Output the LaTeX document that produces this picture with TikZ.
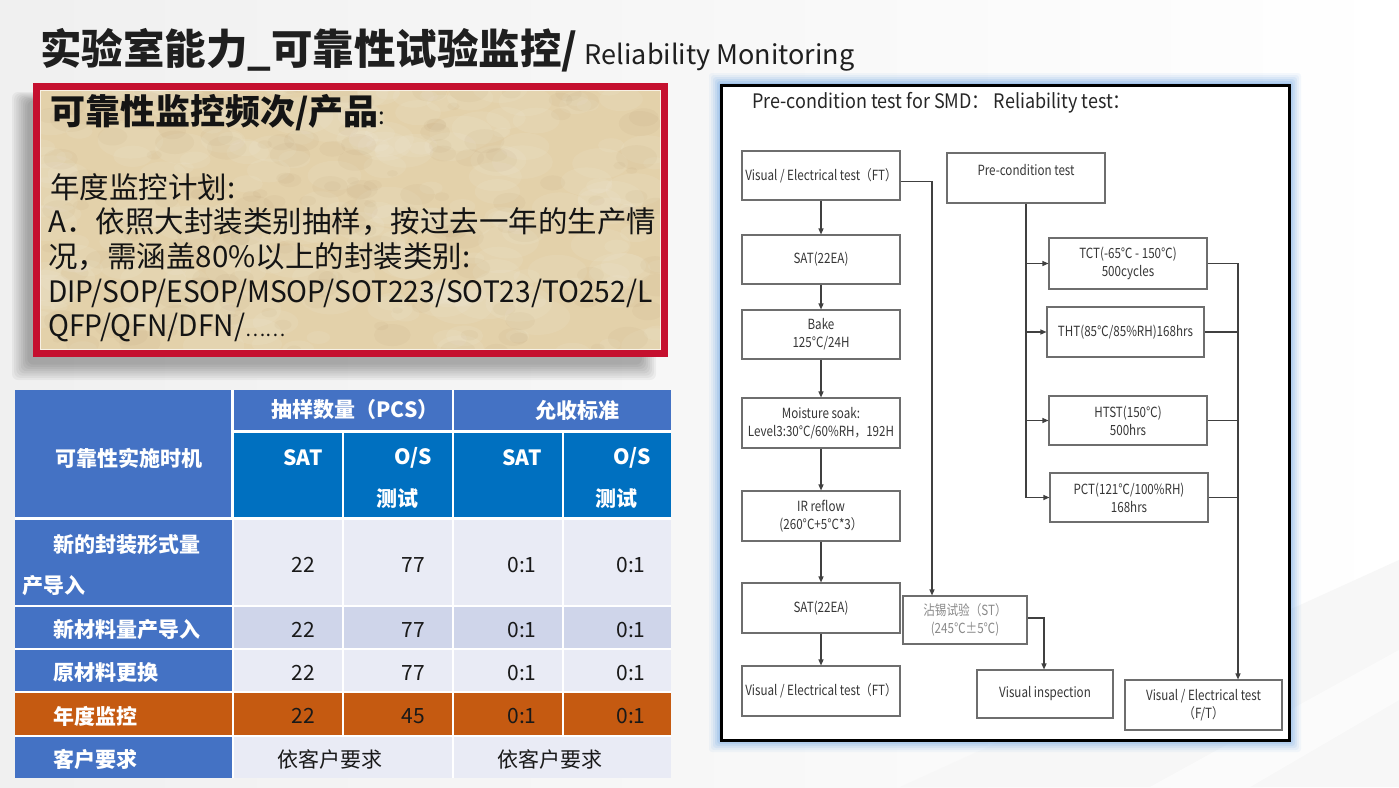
\documentclass[tikz,border=0pt]{standalone}
\usepackage{fontspec}
\setmainfont{Noto Sans CJK SC}
\usepackage{graphicx}
\usetikzlibrary{arrows.meta}
\definecolor{tblue}{HTML}{4472C4}
\definecolor{hblue}{HTML}{0070C0}
\definecolor{rowa}{HTML}{E9EBF5}
\definecolor{rowb}{HTML}{CFD5EA}
\definecolor{orng}{HTML}{C55A11}
\definecolor{crim}{HTML}{C5102F}
\definecolor{tanc}{HTML}{E3D1AA}
\definecolor{glow}{HTML}{6FA6E4}
\definecolor{fline}{HTML}{6E6E6E}
\definecolor{ftext}{HTML}{363636}
\definecolor{sttext}{HTML}{8A8A8A}
\newcommand{\myfs}[2]{\fontsize{#1}{#2}\selectfont}
\newcommand{\nw}[1]{\scalebox{0.83}[1]{#1}}
\tikzset{
  fbox/.style={draw=fline, line width=1.1pt, fill=white, inner sep=0pt, text=ftext,
    font=\myfs{14}{18}, align=center},
  ftxt/.style={inner sep=0pt, text=ftext, font=\myfs{14}{18}, align=center},
  arr/.style={draw=black!75, line width=1.1pt, -{Triangle[length=6pt,width=5pt]}},
  lnk/.style={draw=black!75, line width=1.1pt},
  hdr/.style={inner sep=0pt, text=white, font=\myfs{21}{26}\bfseries},
  cell/.style={inner sep=0pt, text=black!90, font=\myfs{21}{26}},
  lbl/.style={inner sep=0pt, anchor=west, text=white, font=\myfs{21}{26}\bfseries},
  btxt/.style={inner sep=0pt, anchor=west, text=black!92, font=\myfs{29.5}{34}}
}
\begin{document}
\begin{tikzpicture}[x=1pt,y=-1pt]
\useasboundingbox (0,0) rectangle (1399,787);
% background
\shade[left color=black!6, right color=white] (0,0) rectangle (1399,787);
\fill[black!3] (900,787) -- (1399,560) -- (1399,787) -- cycle;
\fill[white,opacity=0.6] (1150,787) -- (1399,650) -- (1399,700) -- (1250,787) -- cycle;

% title
\node[inner sep=0pt, anchor=base west, text=black!88] (title) at (40,64)
  {{\myfs{41.5}{44}\bfseries 实验室能力\_可靠性试验监控/}\hspace{7pt}{\myfs{27}{30}Reliability Monitoring}};

% shadow of the red box
\foreach \i in {0,...,7}{
  \fill[black,opacity=0.045, rounded corners=6pt] (12+2.2*\i, 92+1.2*\i) rectangle (656-2*\i, 380-2.2*\i);
}
% red box with tan texture
\fill[tanc] (33,83) rectangle (668,357);
\pgfmathsetseed{11}
\begin{scope}
\clip (37,87) rectangle (664,353);
\foreach \k in {1,...,220}{
  \pgfmathsetmacro\xx{37+rnd*627}
  \pgfmathsetmacro\yy{87+rnd*266}
  \pgfmathsetmacro\rr{8+rnd*26}
  \fill[white,opacity=0.07] (\xx,\yy) circle [x radius=\rr, y radius=0.55*\rr];
}
\foreach \k in {1,...,160}{
  \pgfmathsetmacro\xx{37+rnd*627}
  \pgfmathsetmacro\yy{87+rnd*266}
  \pgfmathsetmacro\rr{5+rnd*16}
  \fill[brown!70!black,opacity=0.04] (\xx,\yy) circle [x radius=\rr, y radius=0.6*\rr];
}
\end{scope}
\draw[crim, line width=7pt] (36.5,86.5) rectangle (664.5,353.5);
\draw[white!70!tanc, line width=1pt] (40.5,90.5) rectangle (660.5,349.5);

\node[btxt] (bh) at (50,113) {{\myfs{35}{38}\bfseries 可靠性监控频次/产品}{\myfs{24}{26}:}};
\node[btxt] (b1) at (50,187) {年度监控计划:};
\node[btxt] (b2) at (48,222) {A．依照大封装类别抽样，按过去一年的生产情};
\node[btxt] (b3) at (48,257) {况，需涵盖80\%以上的封装类别:};
\node[btxt] (b4) at (48,293) {\scalebox{0.955}[1]{DIP/SOP/ESOP/MSOP/SOT223/SOT23/TO252/L}};
\node[btxt] (b5) at (48,327) {\scalebox{0.955}[1]{QFP/QFN/DFN/}{\myfs{19}{20}……}};

% table
\fill[white] (15,390) rectangle (671,778);
\fill[tblue] (15,390) rectangle (231,517);
\fill[tblue] (234,390) rectangle (451.5,430);
\fill[tblue] (453.5,390) rectangle (671,430);
\fill[hblue] (234,433) rectangle (341.5,517);
\fill[hblue] (343.5,433) rectangle (451.5,517);
\fill[hblue] (453.5,433) rectangle (561.5,517);
\fill[hblue] (563.5,433) rectangle (671,517);
% label column
\fill[tblue] (15,520) rectangle (232,604.5);
\fill[tblue] (15,606.5) rectangle (232,648);
\fill[tblue] (15,650) rectangle (232,691);
\fill[orng]  (15,693) rectangle (232,734.5);
\fill[tblue] (15,736.5) rectangle (232,778);
% data cells
\foreach \xa/\xb in {233.5/341.5, 343.5/451.5, 453.5/561.5, 563.5/671}{
  \fill[rowa] (\xa,520) rectangle (\xb,604.5);
  \fill[rowb] (\xa,606.5) rectangle (\xb,648);
  \fill[rowa] (\xa,650) rectangle (\xb,691);
  \fill[orng] (\xa,693) rectangle (\xb,734.5);
}
\fill[rowa] (233.5,736.5) rectangle (451.5,778);
\fill[rowa] (453.5,736.5) rectangle (671,778);

\node[lbl] (h0) at (55,458) {可靠性实施时机};
\node[hdr] (h1) at (355,410) {抽样数量（PCS）};
\node[hdr] (h2) at (577,410) {允收标准};
\node[hdr] (h3) at (303,458) {SAT};
\node[hdr] (h4) at (413,458) {O/S};
\node[hdr] (h5) at (397,499) {测试};
\node[hdr] (h6) at (522,458) {SAT};
\node[hdr] (h7) at (632,458) {O/S};
\node[hdr] (h8) at (616,499) {测试};

\node[lbl] (r1a) at (53,545) {新的封装形式量};
\node[lbl] (r1b) at (22,586) {产导入};
\node[lbl] (r2) at (53,630) {新材料量产导入};
\node[lbl] (r3) at (53,673) {原材料更换};
\node[lbl] (r4) at (53,716) {年度监控};
\node[lbl] (r5) at (53,759) {客户要求};

\foreach \yy/\a/\b/\n in {565/22/77/1, 630/22/77/2, 673/22/77/3, 716/22/45/4}{
  \node[cell] (c\n a) at (303,\yy) {\a};
  \node[cell] (c\n b) at (413,\yy) {\b};
  \node[cell] (c\n c) at (522,\yy) {0:1};
  \node[cell] (c\n d) at (631,\yy) {0:1};
}
\node[cell] (c5a) at (330,759) {依客户要求};
\node[cell] (c5b) at (550,759) {依客户要求};

% flowchart frame with glow
\foreach \g/\o in {12/0.07, 10/0.09, 8/0.12, 6/0.15, 4/0.2, 2/0.25}{
  \fill[glow,opacity=\o, rounded corners=3pt] (721-\g,85-\g) rectangle (1289+\g,740+\g);
}
\draw[black, line width=3pt, fill=white] (721,85) rectangle (1289,740);

\node[inner sep=0pt, anchor=west, text=black!85, font=\myfs{20}{22}] (fh) at (752,103)
  {\scalebox{0.9}[1]{Pre-condition test for SMD：\ Reliability test：}};

\node[fbox, minimum width=158pt, minimum height=49pt] (ve1) at (821,175.5) {\nw{Visual / Electrical test（FT）}};
\node[fbox, minimum width=158pt, minimum height=49pt] (sat1) at (821,259.5) {\nw{SAT(22EA)}};
\node[fbox, minimum width=158pt, minimum height=49pt] (bake) at (821,334.5) {\nw{Bake}\\\nw{125°C/24H}};
\node[fbox, minimum width=158pt, minimum height=50pt] (moist) at (821,423) {\nw{Moisture soak:}\\\nw{Level3:30°C/60\%RH，192H}};
\node[fbox, minimum width=158pt, minimum height=50pt] (ir) at (821,516) {\nw{IR reflow}\\\nw{(260°C+5°C*3）}};
\node[fbox, minimum width=158pt, minimum height=50pt] (sat2) at (821,608) {\nw{SAT(22EA)}};
\node[fbox, minimum width=158pt, minimum height=50pt] (ve2) at (821,691) {\nw{Visual / Electrical test（FT）}};

\node[fbox, minimum width=158pt, minimum height=50pt] (pre) at (1026,178) {};
\node[ftxt] (pretxt) at (1026,170) {\nw{Pre-condition test}};
\node[fbox, minimum width=158pt, minimum height=51pt] (tct) at (1128,263.5) {\nw{TCT(-65℃ - 150℃)}\\\nw{500cycles}};
\node[fbox, minimum width=157pt, minimum height=50pt] (tht) at (1125.5,332) {\nw{THT(85℃/85\%RH)168hrs}};
\node[fbox, minimum width=158pt, minimum height=49pt] (htst) at (1128,420.5) {\nw{HTST(150℃)}\\\nw{500hrs}};
\node[fbox, minimum width=158pt, minimum height=49pt] (pct) at (1129,497.5) {\nw{PCT(121℃/100\%RH)}\\\nw{168hrs}};
\node[fbox, text=sttext, minimum width=124pt, minimum height=48pt] (st) at (965,620) {\nw{沾锡试验（ST）}\\\nw{(245℃±5℃)}};
\node[fbox, minimum width=136pt, minimum height=48pt] (vi) at (1045,694) {\nw{Visual inspection}};
\node[fbox, minimum width=157pt, minimum height=50pt] (ve3) at (1203.5,705) {\nw{Visual / Electrical test}\\\nw{（F/T）}};

% connectors left column
\draw[arr] (ve1) -- (sat1);
\draw[arr] (sat1) -- (bake);
\draw[arr] (bake) -- (moist);
\draw[arr] (moist) -- (ir);
\draw[arr] (ir) -- (sat2);
\draw[arr] (sat2) -- (ve2);
% FT to solderability
\draw[arr] ([yshift=-6pt]ve1.east) -| ([xshift=-33pt]st.north);
\draw[arr] ([yshift=2pt]st.east) -| ([xshift=-1pt]vi.north);
% reliability branches
\draw[arr] (pre.south) |- (pct.west);
\draw[arr] (pre.south |- tct.west) -- (tct.west);
\draw[arr] (pre.south |- tht.west) -- (tht.west);
\draw[arr] (pre.south |- htst.west) -- (htst.west);
\coordinate (rj) at (1238,263.5);
\draw[arr] (tct.east) -- (rj) -- (rj |- ve3.north);
\draw[lnk] (tht.east) -- (tht.east -| rj);
\draw[lnk] (htst.east) -- (htst.east -| rj);
\draw[lnk] (pct.east) -- (pct.east -| rj);
\end{tikzpicture}
\end{document}
